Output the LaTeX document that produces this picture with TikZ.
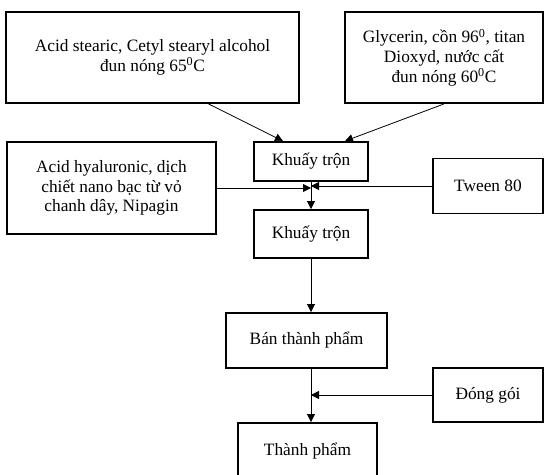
\documentclass[tikz,border=0pt]{standalone}
\usepackage{fontspec}
\setmainfont{Liberation Serif}
\usetikzlibrary{arrows.meta,calc}
\begin{document}
\begin{tikzpicture}[x=0.75pt,y=-0.75pt,
  box/.style={draw, line width=1.4pt, align=center, inner sep=2pt, font=\fontsize{13pt}{14.8pt}\selectfont},
  link/.style={line width=0.6pt, -{Triangle[length=6pt,width=6pt]}}]
\clip (0,0) rectangle (544,475);
\node[box, minimum width=219.75pt, minimum height=68.25pt] (stearic) at (152.5,57.5) {Acid stearic, Cetyl stearyl alcohol\\đun nóng 65\textsuperscript{0}C};
\node[box, minimum width=148.5pt, minimum height=68.25pt] (glycerin) at (444,57.5) {Glycerin, cồn 96\textsuperscript{0}, titan\\Dioxyd, nước cất\\đun nóng 60\textsuperscript{0}C};
\node[box, minimum width=85.5pt, minimum height=29.25pt] (mixa) at (311,161.5) {Khuấy trộn};
\node[box, minimum width=156.75pt, minimum height=69pt] (hyal) at (111.5,188) {Acid hyaluronic, dịch\\chiết nano bạc từ vỏ\\chanh dây, Nipagin};
\node[box, minimum width=82.5pt, minimum height=41.25pt] (tween) at (488,186) {Tween 80};
\node[box, minimum width=85.5pt, minimum height=36pt] (mixb) at (311,234) {Khuấy trộn};
\node[box, minimum width=120.75pt, minimum height=41.25pt] (semi) at (306.5,340.5) {Bán thành phẩm};
\node[box, minimum width=82.5pt, minimum height=40.5pt] (pack) at (488,395) {Đóng gói};
\node[box, minimum width=104.25pt, minimum height=42pt] (final) at (307.5,451) {Thành phẩm};
\draw[link] ($(stearic.south)+(56,0)$) -- ($(mixa.north)+(-28,0)$);
\draw[link] (glycerin.south) -- ($(mixa.north)+(34,0)$);
\draw[link] (mixa.south) -- (mixb.north);
\draw[link] (hyal.east) -- (hyal.east -| mixa.south);
\draw[link] (tween.west) -- (tween.west -| mixa.south);
\draw[link] (mixb.south) -- (mixb.south |- semi.north);
\draw[link] (semi.south -| mixb.south) -- (final.north -| mixb.south);
\draw[link] (pack.west) -- (pack.west -| mixb.south);
\end{tikzpicture}
\end{document}
